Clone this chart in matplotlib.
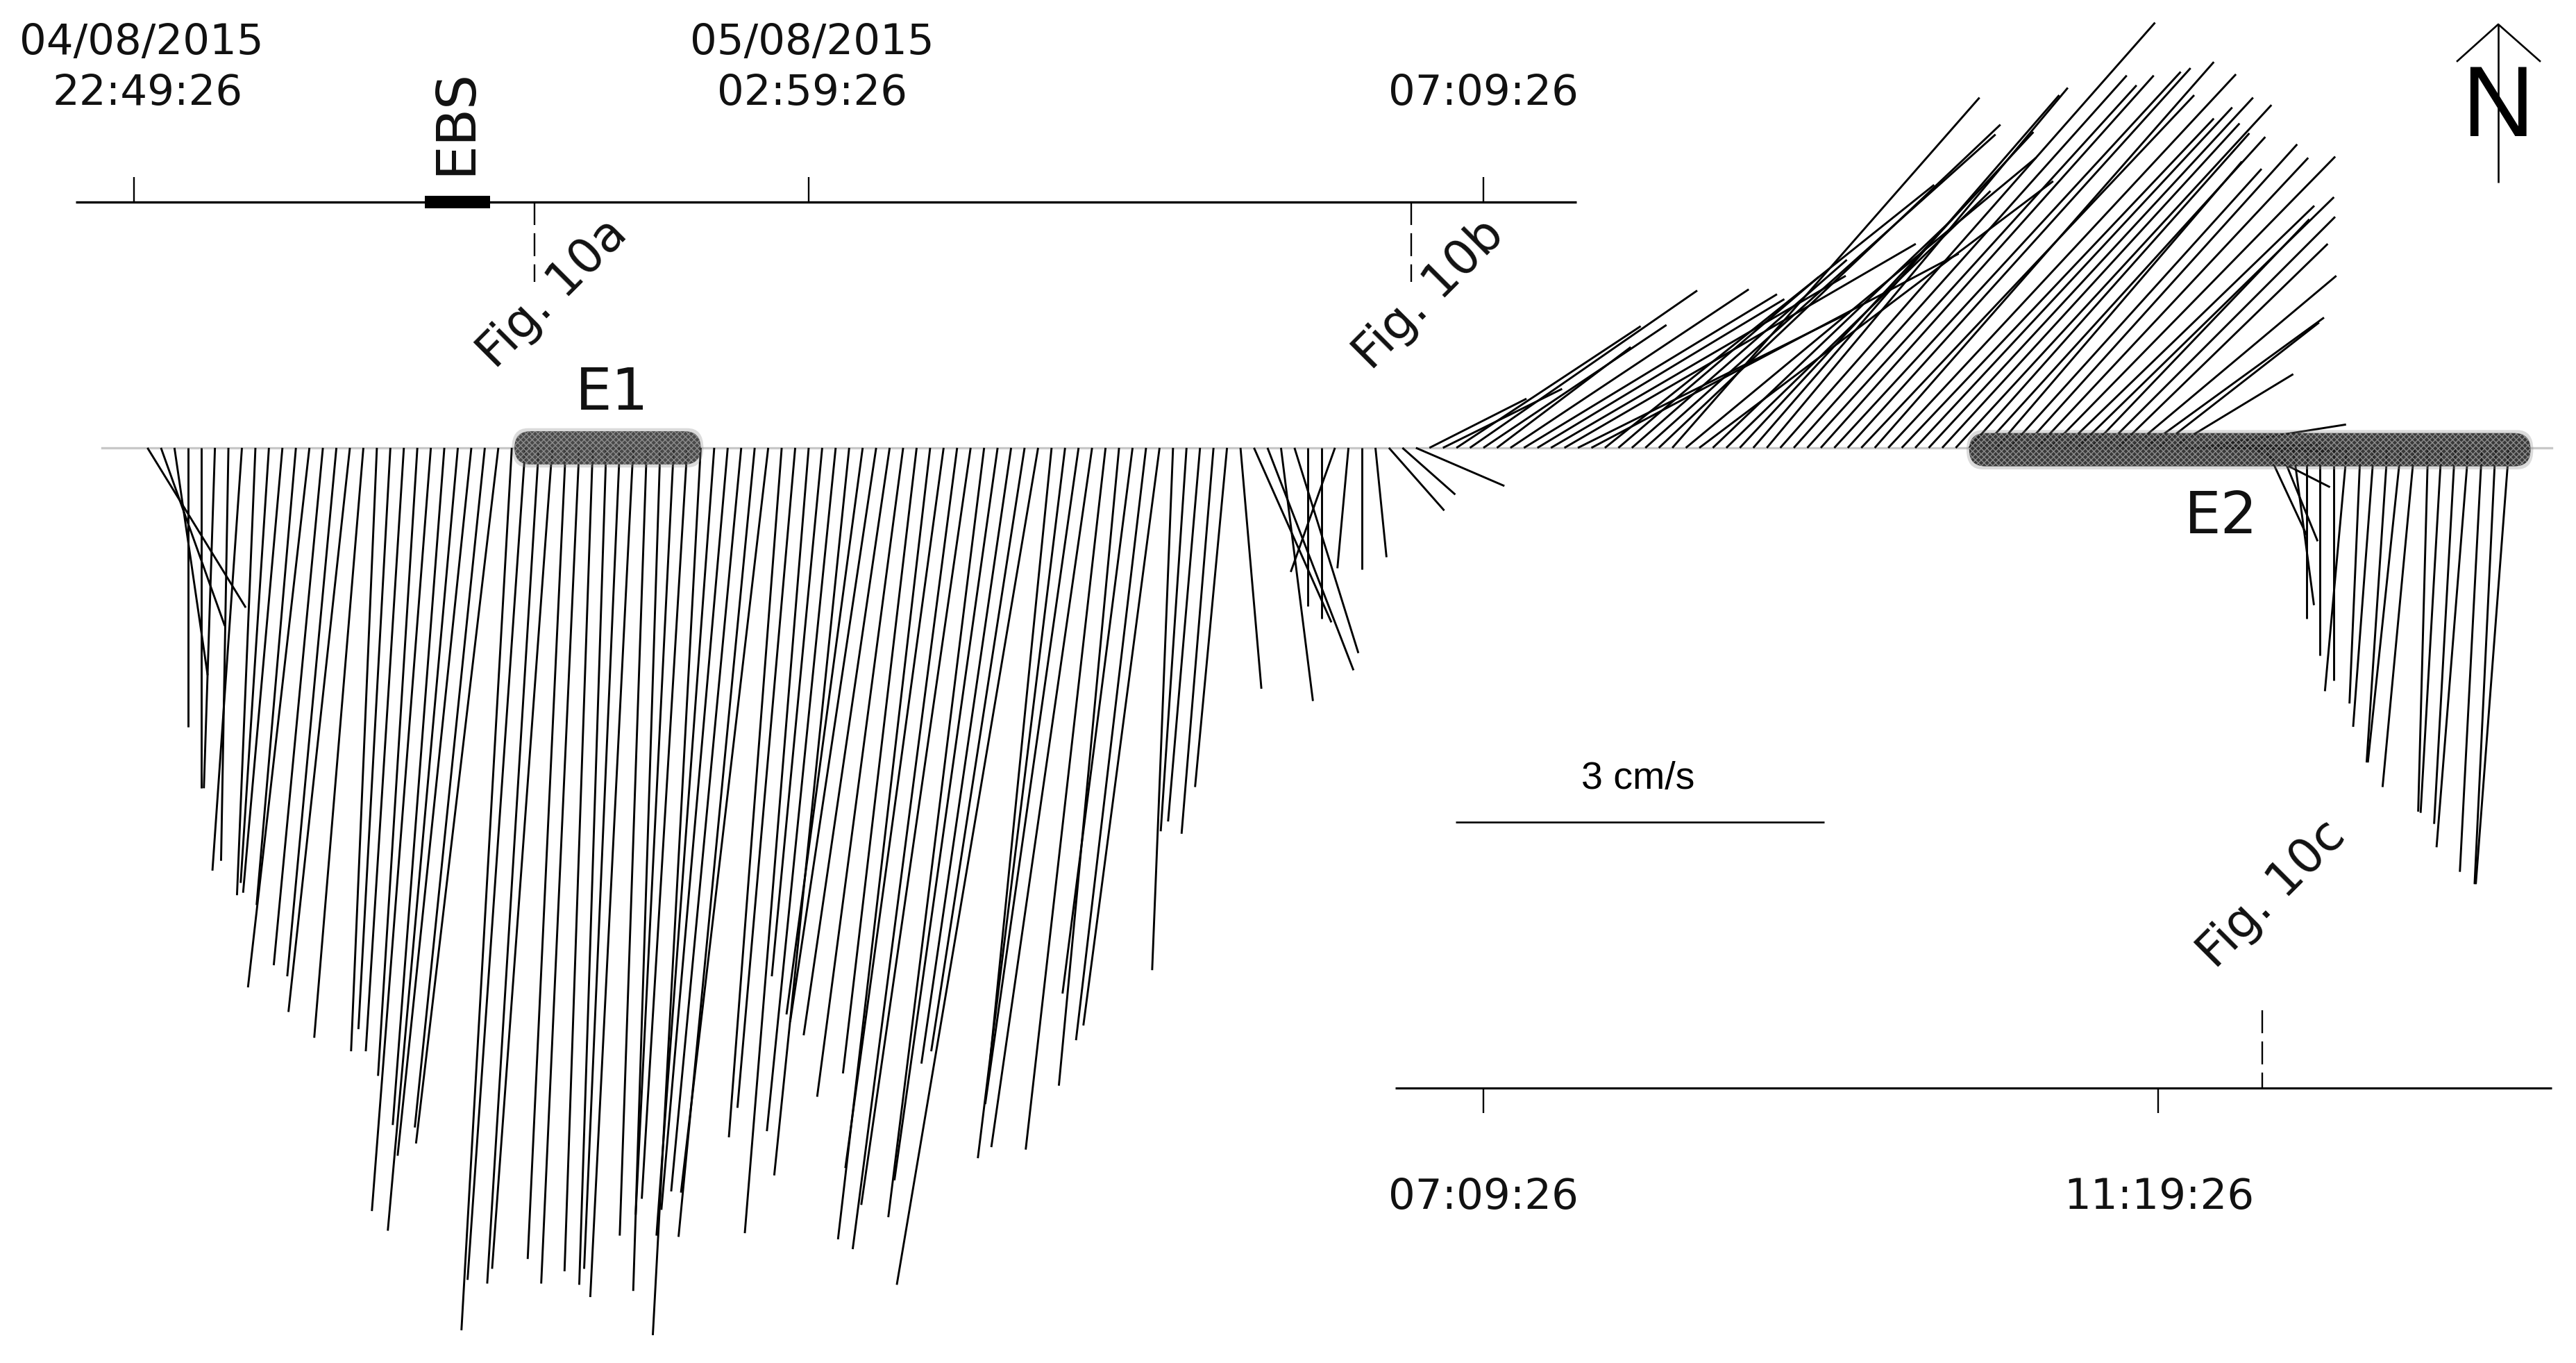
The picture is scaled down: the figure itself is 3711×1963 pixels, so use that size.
import numpy as np
import matplotlib
matplotlib.use("Agg")
import matplotlib.pyplot as plt
from matplotlib.patches import FancyBboxPatch, Rectangle

# current components (cm/s), one stick every 5 minutes from 22:54:26
east = [.80,.52,.27,0,0,-.09,-.06,-.24,-.15,-.23,-.32,-.32,-.50,-.40,-.40,-.50,-.40,-.21,-.26,-.31,
        -.32,-.48,-.42,-.57,-.60,-.57,-.67,-.41,-.47,-.42,-.49,-.31,-.31,-.23,-.22,-.29,-.35,-.22,-.22,-.31,
        -.37,-.39,-.47,-.54,-.57,-.62,-.71,-.43,-.47,-.52,-.41,-.56,-.61,-.62,-.70,-.70,-.70,-.60,-.75,-.80,
        -.85,-.89,-.78,-.84,-.73,-.76,-1.15,-.50,-.71,-.76,-.82,-.65,-.49,-.57,-.57,-.62,-.17,-.21,-.26,-.26,
        -.26,.17,.63,.70,.26,.52,0,0,-.36,-.09,0,.09,.45,.43,.72,
        .79,.97,1.50,1.85,1.49,1.09,1.94,2.06,2.01,2.40,2.86,2.21,2.99,2.68,1.63,1.75,2.85,2.78,2.50,2.85,
        2.88,1.95,2.15,2.39,2.49,2.45,3.05,2.71,2.68,2.71,2.82,2.79,2.71,2.76,2.83,2.54,2.58,2.64,2.42,2.57,
        2.28,2.30,2.00,2.05,2.23,2.21,2.32,2.04,2.09,1.78,1.88,1.71,1.67,1.46,1.31,.99,
        .67,1.20,.92,.96,.72,.63,.33,.31,.17,0,0,0,-.18,-.09,-.17,-.17,-.27,-.26,-.08,-.17,-.17,-.26,-.18,-.17,-.27]
north = [-1.30,-1.45,-1.85,-2.27,-2.77,-2.77,-3.36,-3.44,-3.64,-3.54,-3.62,-3.72,-4.39,-4.21,-4.30,-4.59,-4.80,-4.91,-4.73,-4.91,
         -5.11,-6.21,-5.51,-6.37,-5.76,-5.53,-5.66,-7.18,-6.77,-6.80,-6.68,-6.60,-6.80,-6.70,-6.81,-6.68,-6.91,-6.41,-6.86,-6.24,
         -6.11,-7.22,-6.41,-6.20,-6.05,-6.42,-6.06,-5.61,-5.37,-6.39,-4.30,-5.56,-5.92,-4.61,-4.67,-4.78,-5.28,-5.09,-6.44,-5.86,
         -6.52,-6.16,-6.26,-5.96,-5.01,-4.91,-6.81,-4.98,-5.78,-5.34,-5.69,-5.71,-5.19,-4.44,-4.82,-4.70,-4.25,-3.12,-3.04,-3.14,
         -2.76,-1.96,-1.42,-1.81,-2.06,-1.67,-1.29,-1.39,-1.01,-.98,-.99,-.89,-.51,-.38,-.31,
         .40,.48,.99,1.28,1.00,.82,1.29,1.25,1.21,1.40,1.66,1.10,1.58,2.14,1.39,1.53,2.55,2.63,2.85,2.36,
         2.17,1.86,2.09,2.57,2.87,2.93,3.46,3.03,2.95,3.03,3.06,3.09,2.87,3.14,3.04,2.68,2.77,2.85,2.64,2.79,
         2.56,2.53,2.33,2.27,2.47,2.36,2.37,1.97,2.04,1.86,1.88,1.66,1.40,1.06,1.02,.60,
         .02,.19,.03,-.02,-.03,-.32,-.71,-.76,-1.28,-1.39,-1.69,-1.89,-1.98,-2.08,-2.27,-2.56,-2.56,-2.76,-2.96,-2.97,-3.06,-3.25,-3.45,-3.55,-3.55]
step_min = 5
noise_windows = [(140, 211), (679, 889)]   # minutes after 22:49:26, E1 and E2
top_ticks = ["22:49:26", "02:59:26", "07:09:26"]
bottom_ticks = ["07:09:26", "11:19:26"]
scale_cms = 3

W, H = 3711, 1963
PX_MIN = 3.888    # px per minute
PX_CMS = 177.0    # px per cm/s
X0, Y0 = 193.0, 645.0
K = PX_CMS / PX_MIN

plt.rcParams["hatch.linewidth"] = 1.0
fig = plt.figure(figsize=(W/100, H/100), dpi=100, facecolor="white")
ax = fig.add_axes([0, 0, 1, 1])
ax.set_xlim(-X0/PX_MIN, (W-X0)/PX_MIN)
ax.set_ylim((Y0-H)/PX_CMS, Y0/PX_CMS)
ax.axis("off")

px = fig.add_axes([0, 0, 1, 1])
px.set_xlim(0, W); px.set_ylim(H, 0)
px.axis("off"); px.patch.set_alpha(0)

# baseline
ax.plot([(147-X0)/PX_MIN, (3676-X0)/PX_MIN], [0, 0], color="#c8c8c8", lw=2.4, zorder=1)

# sticks
times = step_min * (np.arange(len(east)) + 1)
for t, u, v in zip(times, east, north):
    ax.plot([t, t + u*K], [0, v], color="black", lw=2.1, solid_capstyle="butt", zorder=2)

# noisy E1 / E2 bands
def band(a, b, mid, half, **kw):
    r = 6.0
    ax.add_patch(FancyBboxPatch((a, mid-half), b-a, 2*half,
                                boxstyle=f"round,pad=0,rounding_size={r}",
                                mutation_aspect=half/r, **kw))
for (a, b), dark, mid in zip(noise_windows, ("#303030", "#1c1c1c"), (0.0, -0.015)):
    band(a, b, mid, 0.16, facecolor="#8a8a8a", edgecolor="none", alpha=0.3, zorder=3)
    band(a+1, b-1, mid, 0.135, facecolor=dark, edgecolor="none", alpha=0.85, zorder=3.1)
    band(a+1, b-1, mid, 0.135, facecolor="none", edgecolor="#8c8c8c", hatch="xxxx", lw=0, zorder=3.2)

LK = dict(color="black", solid_capstyle="butt")
# top axis
px.plot([109, 2271], [291, 291], lw=2.4, **LK)
for x in (193, 1165, 2137):
    px.plot([x, x], [255, 291], lw=1.7, **LK)
px.add_patch(Rectangle((612, 282), 94, 18, color="black", lw=0))
for x, y0, y1 in ((770, 291, 406), (2033, 291, 406), (3259, 1455, 1567)):
    px.plot([x, x], [y0, y1], lw=1.7, color="black", dashes=(14, 5))
# bottom axis
px.plot([2010, 3676], [1567, 1567], lw=2.2, **LK)
for x in (2137, 3109):
    px.plot([x, x], [1567, 1603], lw=1.7, **LK)
# scale bar
ax.plot([(2097-X0)/PX_MIN, (2097-X0)/PX_MIN + scale_cms*K], [(Y0-1184)/PX_CMS]*2, lw=1.9, **LK)
# north arrow
px.plot([3599, 3599], [35, 263], lw=1.9, **LK)
px.plot([3540, 3599, 3659], [88, 35, 88], lw=1.9, color="black")

TK = dict(ha="center", va="center", family="DejaVu Sans", color="#111111")
for x, y, s in ((204, 61, "04/08/2015"), (213, 134, top_ticks[0]), (1170, 61, "05/08/2015"),
                (1170, 134, top_ticks[1]), (2137, 134, top_ticks[2]),
                (2137, 1725, bottom_ticks[0]), (3110, 1725, bottom_ticks[1])):
    px.text(x, y, s, fontsize=44, **TK)
px.text(656, 175, "EBS", fontsize=57, rotation=90, **TK)
px.text(882, 566, "E1", fontsize=60, **TK)
px.text(3200, 744, "E2", fontsize=60, **TK)
for x, y, s in ((796, 423, "Fig. 10a"), (2059, 424, "Fig. 10b"), (3273, 1288, "Fig. 10c")):
    px.text(x, y, s, fontsize=50, rotation=45, rotation_mode="anchor", **TK)
px.text(2360, 1122, "3 cm/s", fontsize=40, ha="center", va="center", family="Liberation Sans", color="black")
px.text(3598, 158, "N", fontsize=104, ha="center", va="center", family="Liberation Sans", color="black")

fig.savefig("out.png", dpi=100, facecolor="white")
